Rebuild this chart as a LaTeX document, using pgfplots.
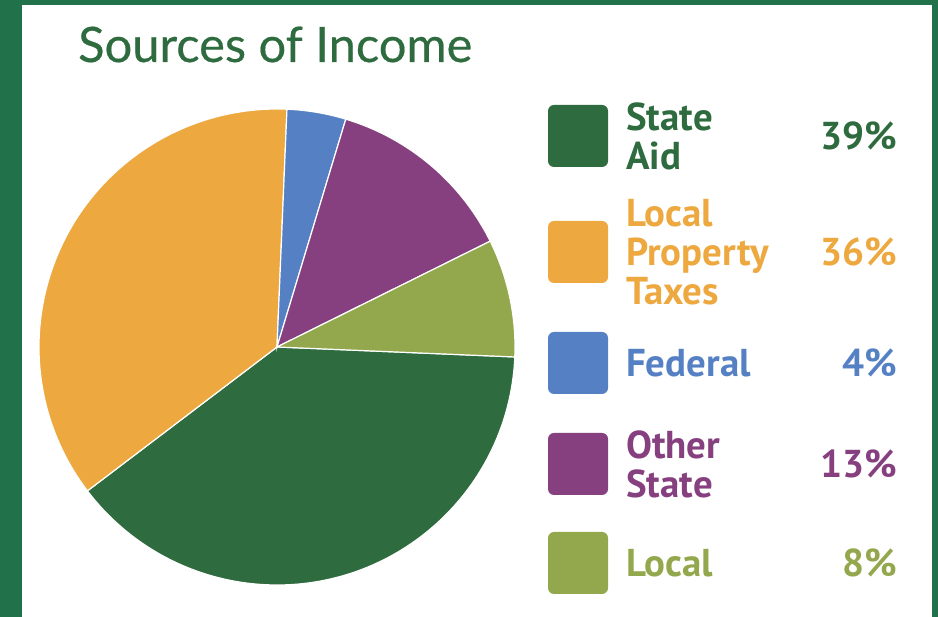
\documentclass[border=0pt]{standalone}
\usepackage{fontspec}
\usepackage{pgfplots}
\usepackage{pgfplotstable}
\pgfplotsset{compat=1.18}
\newfontfamily\titlefont{Lato}[FakeBold=0.4]
\newfontfamily\legfont{PT Sans}

\definecolor{frame}{HTML}{21724A}
\definecolor{titlegreen}{HTML}{2E6B3E}
\definecolor{slice0}{HTML}{2E6B3E}
\definecolor{slice1}{HTML}{EDA83F}
\definecolor{slice2}{HTML}{5581C4}
\definecolor{slice3}{HTML}{86407F}
\definecolor{slice4}{HTML}{93A84C}

% share of income, percent
\pgfplotstableread{
label value
StateAid 39
LocalPropertyTaxes 36
Federal 4
OtherState 13
Local 8
}\incometable

\begin{document}
\begin{tikzpicture}[x=1bp,y=1bp]
% frame and white card
\fill[frame] (0,0) rectangle (938,617);
\fill[white] (22,0) rectangle (932,612);

\node[anchor=base west, inner sep=0, text=titlegreen,
  font=\titlefont\fontsize{49}{52}\selectfont] at (78,617-62) {Sources of Income};

\coordinate (piecenter) at (277,270);
\begin{axis}[
    hide axis,
    scale only axis,
    width=476bp, height=476bp,
    xmin=-1, xmax=1, ymin=-1, ymax=1,
    at={(piecenter)}, anchor=center,
    clip=false,
]
\pgfmathsetmacro\start{-2.4}
\global\let\start\start
\pgfplotstableforeachcolumnelement{value}\of\incometable\as\val{%
  \pgfmathsetmacro\stop{\start-3.6*\val}%
  \edef\temp{\noexpand\fill[slice\pgfplotstablerow, draw=white, line width=1.2bp]
    (axis cs:0,0) -- ++(\start:238bp) arc[start angle=\start, end angle=\stop, radius=238bp] -- cycle;}%
  \temp
  \global\let\start\stop
}
\end{axis}

% legend
\tikzset{
  sw/.style={rounded corners=6bp},
  lab/.style={anchor=west, inner sep=0, align=left,
    font=\legfont\bfseries\fontsize{39}{39}\selectfont},
  pct/.style={anchor=east, inner sep=0,
    font=\legfont\bfseries\fontsize{39}{39}\selectfont},
}
\foreach \c/\y/\txt/\p in {
  slice0/136/{State\\Aid}/39,
  slice1/252/{Local\\Property\\Taxes}/36,
  slice2/363/{Federal}/4,
  slice3/464/{Other\\State}/13,
  slice4/563/{Local}/8}{
  \fill[\c, sw] (548,617-\y-31) rectangle (608,617-\y+31);
  \node[lab, text=\c] at (626,617-\y) {\txt};
  \node[pct, text=\c] at (897,617-\y) {\p\%};
}
\end{tikzpicture}
\end{document}
